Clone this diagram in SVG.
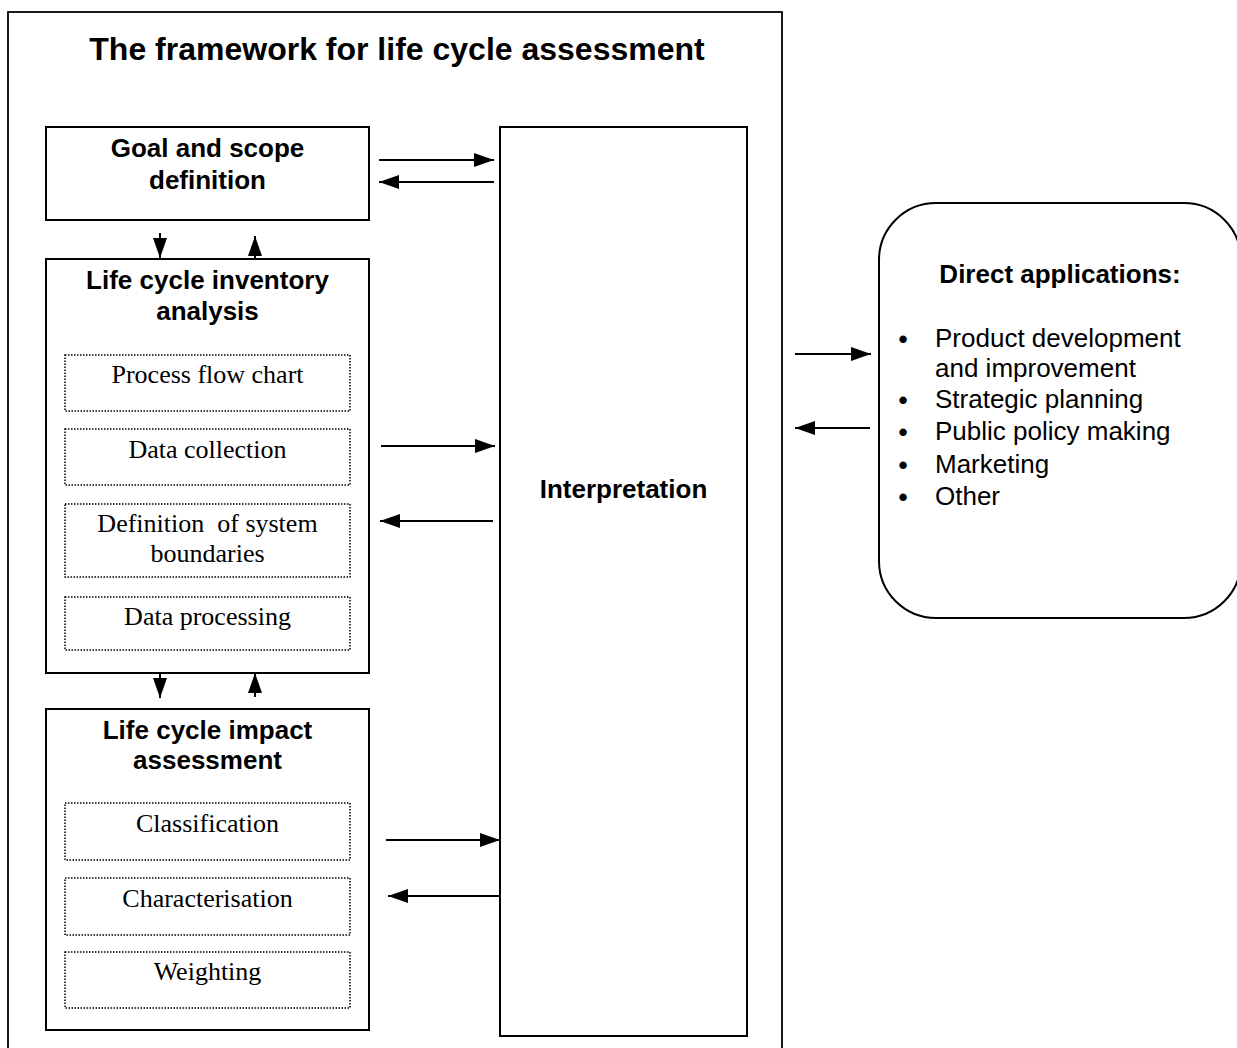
<svg xmlns="http://www.w3.org/2000/svg" width="1237" height="1048" viewBox="0 0 1237 1048">
<style>
.box{fill:#fff;stroke:#000;stroke-width:2}
.frame{fill:none;stroke:#000;stroke-width:1.8}
.dot{fill:none;stroke:#000;stroke-width:1.5;stroke-dasharray:1.5 1.5}
.b{font-family:"Liberation Sans",Arial,sans-serif;font-weight:bold;font-size:26px;text-anchor:middle;fill:#000}
.s{font-family:"Liberation Serif","Times New Roman",serif;font-size:26px;text-anchor:middle;fill:#000;white-space:pre}
.r{font-family:"Liberation Sans",Arial,sans-serif;font-size:26px;fill:#000}
.bul{font-family:"Liberation Sans",Arial,sans-serif;font-size:26px;font-weight:bold;fill:#000;text-anchor:middle}
.c{stroke:#000;stroke-width:2;fill:none;marker-end:url(#ah)}
</style>
<defs>
<marker id="ah" markerUnits="userSpaceOnUse" markerWidth="20" markerHeight="14" refX="20" refY="7" orient="auto">
<path d="M0,0 L20,7 L0,14 z" fill="#000"/>
</marker>
</defs>
<rect width="1237" height="1048" fill="#fff"/>
<g id="frame">
<rect class="frame" x="8" y="12" width="774" height="1060"/>
<text class="b" x="397" y="60" style="font-size:32px">The framework for life cycle assessment</text>
</g>
<g id="goal">
<rect class="box" x="46" y="127" width="323" height="93"/>
<text class="b" x="207.5" y="157">Goal and scope</text>
<text class="b" x="207.5" y="189">definition</text>
</g>
<g id="lci">
<rect class="box" x="46" y="259" width="323" height="414"/>
<text class="b" x="207.5" y="289">Life cycle inventory</text>
<text class="b" x="207.5" y="320">analysis</text>
<g id="lci-flow"><rect class="dot" x="65" y="355" width="285" height="56"/><text class="s" x="207.5" y="383">Process flow chart</text></g>
<g id="lci-collect"><rect class="dot" x="65" y="429" width="285" height="56"/><text class="s" x="207.5" y="458">Data collection</text></g>
<g id="lci-bound"><rect class="dot" x="65" y="504" width="285" height="73"/><text class="s" x="207.5" y="532">Definition  of system</text><text class="s" x="207.5" y="562">boundaries</text></g>
<g id="lci-proc"><rect class="dot" x="65" y="597" width="285" height="53"/><text class="s" x="207.5" y="625">Data processing</text></g>
</g>
<g id="lcia">
<rect class="box" x="46" y="709" width="323" height="321"/>
<text class="b" x="207.5" y="739">Life cycle impact</text>
<text class="b" x="207.5" y="769">assessment</text>
<g id="lcia-class"><rect class="dot" x="65" y="803" width="285" height="57"/><text class="s" x="207.5" y="832">Classification</text></g>
<g id="lcia-char"><rect class="dot" x="65" y="878" width="285" height="57"/><text class="s" x="207.5" y="907">Characterisation</text></g>
<g id="lcia-weight"><rect class="dot" x="65" y="952" width="285" height="56"/><text class="s" x="207.5" y="980">Weighting</text></g>
</g>
<g id="interpretation">
<rect class="box" x="500" y="127" width="247" height="909"/>
<text class="b" x="623.5" y="498">Interpretation</text>
</g>
<g id="applications">
<rect class="box" x="879" y="203" width="362" height="415" rx="57" ry="57"/>
<text class="b" x="1060" y="283">Direct applications:</text>
<g class="bul">
<text x="903" y="348">•</text>
<text x="903" y="409">•</text>
<text x="903" y="441">•</text>
<text x="903" y="474">•</text>
<text x="903" y="506">•</text>
</g>
<g class="r">
<text x="935" y="347">Product development</text>
<text x="935" y="377">and improvement</text>
<text x="935" y="408">Strategic planning</text>
<text x="935" y="440">Public policy making</text>
<text x="935" y="473">Marketing</text>
<text x="935" y="505">Other</text>
</g>
</g>
<g id="connectors">
<line class="c" x1="379" y1="160" x2="494" y2="160"/>
<line class="c" x1="494" y1="182" x2="379" y2="182"/>
<line class="c" x1="160" y1="233" x2="160" y2="258"/>
<line class="c" x1="255" y1="259" x2="255" y2="236"/>
<line class="c" x1="381" y1="446" x2="495" y2="446"/>
<line class="c" x1="493" y1="521" x2="380" y2="521"/>
<line class="c" x1="160" y1="673" x2="160" y2="698"/>
<line class="c" x1="255" y1="697" x2="255" y2="673"/>
<line class="c" x1="386" y1="840" x2="500" y2="840"/>
<line class="c" x1="501" y1="896" x2="388" y2="896"/>
<line class="c" x1="795" y1="354" x2="871" y2="354"/>
<line class="c" x1="870" y1="428" x2="795" y2="428"/>
</g>
</svg>
